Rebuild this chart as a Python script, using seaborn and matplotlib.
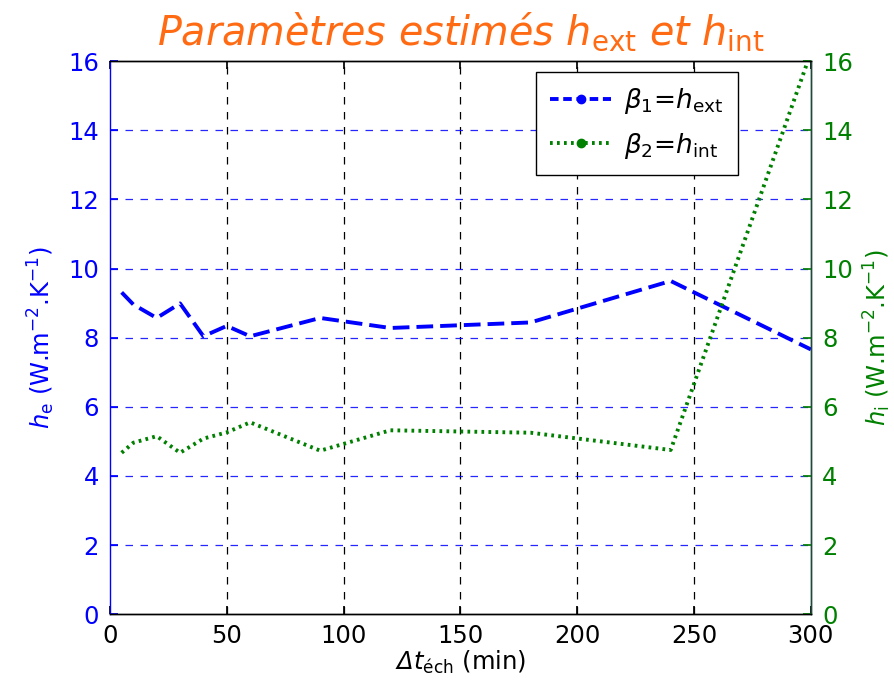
import matplotlib
matplotlib.use("Agg")
import matplotlib.pyplot as plt
import seaborn as sns
import pandas as pd
from matplotlib.lines import Line2D

# Sampling interval (min) and estimated coefficients
dt_ech = [5, 10, 20, 30, 40, 50, 60, 90, 120, 180, 240, 300]
h_ext = [9.31, 8.96, 8.57, 8.99, 8.04, 8.34, 8.04, 8.57, 8.28, 8.44, 9.64, 7.66]
h_int = [4.67, 4.96, 5.15, 4.67, 5.08, 5.26, 5.55, 4.73, 5.32, 5.25, 4.75, 16.25]

x_ticks = [0, 50, 100, 150, 200, 250, 300]
y_ticks = [0, 2, 4, 6, 8, 10, 12, 14, 16]

sns.set_theme(style="white")
plt.rcParams["font.family"] = ["DejaVu Sans"]
plt.rcParams["text.color"] = "black"
plt.rcParams["mathtext.fontset"] = "custom"
plt.rcParams["mathtext.rm"] = "DejaVu Sans"
plt.rcParams["mathtext.it"] = "DejaVu Sans:italic"
plt.rcParams["mathtext.bf"] = "DejaVu Sans:bold"
# slanted sans slot, used for the italic capital Delta
plt.rcParams["mathtext.sf"] = "DejaVu Sans:italic"

BLUE = "#0000FF"
GREEN = "#008000"
ORANGE = "#FF6A13"
FS = 17.5

df = pd.DataFrame({"dt": dt_ech, "he": h_ext, "hi": h_int})

fig = plt.figure(figsize=(8.94, 6.87), dpi=100)
ax = fig.add_axes([0.123, 0.106, 0.784, 0.805])
ax2 = ax.twinx()

sns.lineplot(data=df, x="dt", y="he", ax=ax, color=BLUE, linewidth=2.8,
             linestyle=(0, (4.3, 1.8)))
sns.lineplot(data=df, x="dt", y="hi", ax=ax2, color=GREEN, linewidth=2.8,
             linestyle=(0, (0.7, 1.1)))

for a in (ax, ax2):
    a.set_xlim(0, 300)
    a.set_ylim(0, 16)
    a.set_yticks(y_ticks)
ax.set_xticks(x_ticks)
ax.set_xticklabels([str(v) for v in x_ticks])

# Grid: black dashed verticals, blue dashed horizontals
ax.grid(False)
ax2.grid(False)
for xv in x_ticks[1:-1]:
    ax.axvline(xv, color="black", linestyle=(0, (6, 6)), linewidth=0.9, zorder=0.5)
for yv in y_ticks[1:-1]:
    ax.axhline(yv, color=BLUE, linestyle=(0, (6, 6)), linewidth=0.9, alpha=0.85, zorder=0.5)

ax.tick_params(axis="x", direction="in", length=6, top=True, bottom=True,
               labelsize=FS, colors="black", pad=7)
ax.tick_params(axis="y", direction="in", length=6, labelsize=FS,
               colors=BLUE, labelcolor=BLUE, pad=8, right=False)
ax2.tick_params(axis="y", direction="in", length=6, labelsize=FS,
                colors=GREEN, labelcolor=GREEN, pad=8)

ax.spines["left"].set_color(BLUE)
ax.spines["top"].set_color("black")
ax.spines["bottom"].set_color("black")
ax2.spines["right"].set_color("#1b4b3b")
ax2.spines["left"].set_visible(False)
ax2.spines["top"].set_color("black")
ax2.spines["bottom"].set_color("black")
for s in list(ax.spines.values()) + list(ax2.spines.values()):
    s.set_linewidth(1.0)

ax.set_xlabel(r"$\mathsf{Δ}\mathit{t}_{\mathrm{éch}}$ (min)", fontsize=FS,
              color="black", labelpad=1)
ax.set_ylabel(r"$h_{\mathrm{e}}$ (W.m$^{-2}$.K$^{-1}$)", fontsize=FS, color=BLUE, labelpad=8)
ax2.set_ylabel(r"$h_{\mathrm{i}}$ (W.m$^{-2}$.K$^{-1}$)", fontsize=FS, color=GREEN, labelpad=6)

ax.set_title(r"Paramètres estimés $h_{\mathrm{ext}}$ et $h_{\mathrm{int}}$",
             fontsize=28.5, color=ORANGE, style="italic", pad=12)

handles = [
    Line2D([], [], color=BLUE, linewidth=2.8, linestyle=(0, (2.2, 1.2)),
           marker=".", markersize=12),
    Line2D([], [], color=GREEN, linewidth=2.8, linestyle=(0, (0.7, 1.1)),
           marker=".", markersize=12),
]
labels = [r"$\beta_1$=$h_{\mathrm{ext}}$", r"$\beta_2$=$h_{\mathrm{int}}$"]
leg = ax2.legend(handles, labels, loc="upper right", bbox_to_anchor=(0.896, 0.981),
                 borderaxespad=0, fontsize=19, frameon=True, fancybox=False,
                 framealpha=1, edgecolor="black", handlelength=2.3, borderpad=0.55,
                 labelspacing=0.55, handletextpad=0.5, labelcolor="black")
leg.get_frame().set_linewidth(1.0)

fig.savefig("out.png", dpi=100)
